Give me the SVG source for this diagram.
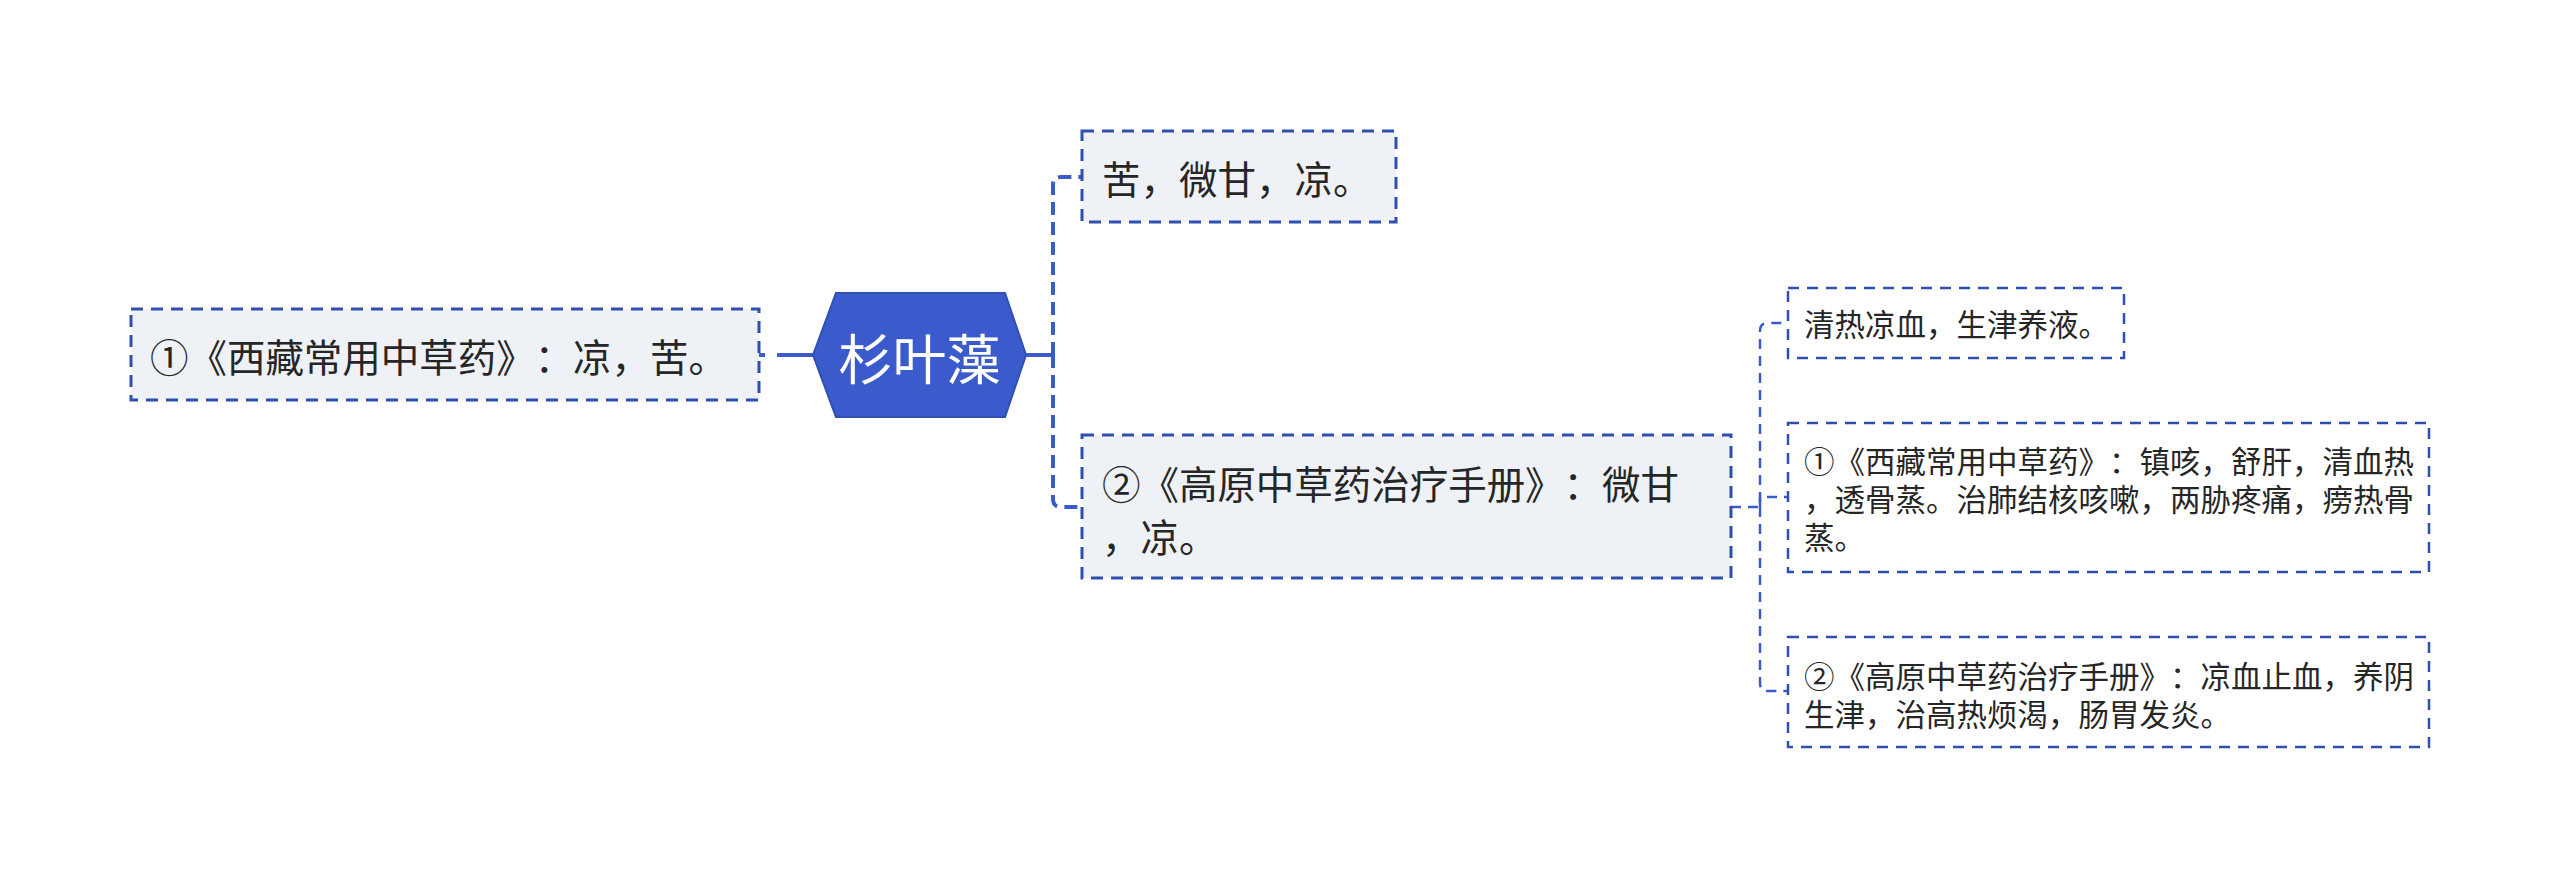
<svg xmlns="http://www.w3.org/2000/svg" width="2560" height="877" viewBox="0 0 2560 877">
<style>
text{font-family:"Noto Sans CJK SC","Noto Sans",sans-serif;dominant-baseline:central;fill:#262626;text-spacing-trim:space-all}
.l1{font-size:38.5px}
.l2{font-size:30.5px}
.root{font-size:54px;fill:#ffffff}
.box1{fill:#eef1f5;stroke:#2f4fae;stroke-width:3;stroke-dasharray:12 8}
.box2{fill:#ffffff;stroke:#2f4fae;stroke-width:2.5;stroke-dasharray:11 8}
.c1{fill:none;stroke:#3a5bc9;stroke-width:4;stroke-dasharray:13 7}
.c1s{fill:none;stroke:#3a5bc9;stroke-width:4}
.c2{fill:none;stroke:#3a5bc9;stroke-width:2.5;stroke-dasharray:10 7}
</style>
<rect width="2560" height="877" fill="#ffffff"/>
<g id="connectors">
<line class="c1s" x1="759" y1="355" x2="765" y2="355"/>
<line class="c1s" x1="777" y1="355" x2="813" y2="355"/>
<line class="c1s" x1="1026" y1="355" x2="1053" y2="355"/>
<path class="c1" d="M1053 355 V185 Q1053 177 1061 177 H1082"/>
<path class="c1" d="M1053 355 V499 Q1053 507 1061 507 H1082"/>
<path class="c2" d="M1731 507 H1760 V331 Q1760 323 1768 323 H1788"/>
<path class="c2" d="M1760 507 V497 H1788"/>
<path class="c2" d="M1760 507 V683 Q1760 691 1768 691 H1788"/>
</g>
<g id="root">
<polygon points="813,355 836,293 1005,293 1026,355 1005,417 836,417" fill="#3b5bcd" stroke="#2f4fb5" stroke-width="2"/>
<text class="root" x="919.5" y="356" text-anchor="middle">杉叶藻</text>
</g>
<g id="left1">
<rect class="box1" x="131" y="309" width="628" height="91"/>
<text class="l1" x="150" y="355" textLength="577" lengthAdjust="spacing">①《西藏常用中草药》：凉，苦。</text>
</g>
<g id="right1a">
<rect class="box1" x="1082" y="131" width="314" height="91"/>
<text class="l1" x="1102" y="177">苦，微甘，凉。</text>
</g>
<g id="right1b">
<rect class="box1" x="1082" y="435" width="649" height="143"/>
<text class="l1" x="1102" y="482" textLength="577" lengthAdjust="spacing">②《高原中草药治疗手册》：微甘</text>
<text class="l1" x="1102" y="535">，凉。</text>
</g>
<g id="leaf1">
<rect class="box2" x="1788" y="288" width="336" height="70"/>
<text class="l2" x="1804" y="323">清热凉血，生津养液。</text>
</g>
<g id="leaf2">
<rect class="box2" x="1788" y="423" width="641" height="149"/>
<text class="l2" x="1804" y="460" textLength="610" lengthAdjust="spacing">①《西藏常用中草药》：镇咳，舒肝，清血热</text>
<text class="l2" x="1804" y="498">，透骨蒸。治肺结核咳嗽，两胁疼痛，痨热骨</text>
<text class="l2" x="1804" y="536">蒸。</text>
</g>
<g id="leaf3">
<rect class="box2" x="1788" y="637" width="641" height="110"/>
<text class="l2" x="1804" y="675" textLength="610" lengthAdjust="spacing">②《高原中草药治疗手册》：凉血止血，养阴</text>
<text class="l2" x="1804" y="713">生津，治高热烦渴，肠胃发炎。</text>
</g>
</svg>
